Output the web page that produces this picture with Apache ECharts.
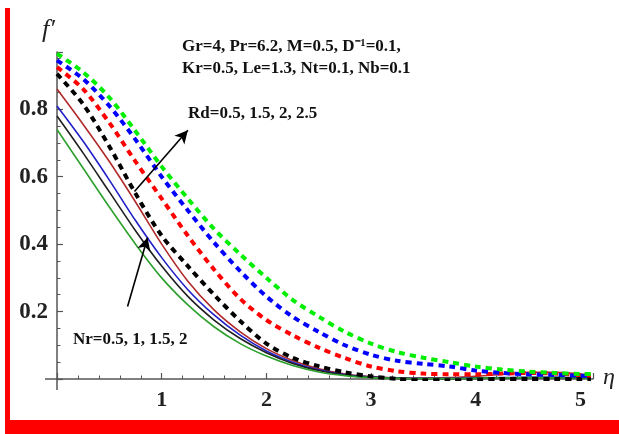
<!DOCTYPE html>
<html><head><meta charset="utf-8">
<script src="https://cdn.jsdelivr.net/npm/echarts@6/dist/echarts.min.js"></script>
<style>html,body{margin:0;padding:0;background:#fff}#c{width:619px;height:434px}</style>
</head><body><div id="c"></div>
<script>
// eta grid
const eta = [0,0.25,0.5,0.75,1,1.25,1.5,1.75,2,2.25,2.5,2.75,3,3.25,3.5,3.75,4,4.25,4.5,4.75,5,5.1];
// Solid curves: Nr = 0.5, 1, 1.5, 2
const nr05 = [0.86,0.755,0.645,0.525,0.40,0.29,0.205,0.14,0.09,0.055,0.03,0.015,0.007,0.003,0.003,0.004,0.008,0.014,0.02,0.02,0.015,0.012];
const nr1  = [0.81,0.705,0.59,0.47,0.36,0.265,0.19,0.13,0.083,0.05,0.027,0.013,0.006,0.003,0.002,0.002,0.003,0.004,0.005,0.005,0.004,0.004];
const nr15 = [0.78,0.67,0.555,0.44,0.335,0.245,0.175,0.12,0.078,0.046,0.025,0.012,0.005,0.002,0.001,0.001,0.002,0.003,0.004,0.004,0.003,0.003];
const nr2  = [0.74,0.625,0.51,0.40,0.30,0.22,0.155,0.105,0.068,0.04,0.021,0.01,0.004,0.002,0.001,0.001,0.002,0.003,0.004,0.004,0.003,0.003];
// Dashed curves: Rd = 0.5, 1.5, 2, 2.5
const rd05 = [0.905,0.815,0.69,0.55,0.425,0.335,0.25,0.172,0.105,0.063,0.038,0.02,0.008,0.0,-0.004,-0.004,-0.002,0,0,0,0,0];
const rd15 = [0.925,0.86,0.76,0.645,0.535,0.425,0.325,0.238,0.175,0.13,0.093,0.062,0.037,0.023,0.016,0.014,0.014,0.016,0.018,0.016,0.012,0.01];
const rd2  = [0.945,0.89,0.81,0.71,0.60,0.50,0.405,0.32,0.245,0.185,0.14,0.10,0.072,0.054,0.045,0.037,0.025,0.018,0.014,0.012,0.01,0.01];
const rd25 = [0.965,0.91,0.835,0.735,0.63,0.535,0.445,0.37,0.30,0.235,0.185,0.14,0.105,0.08,0.063,0.05,0.037,0.028,0.022,0.018,0.015,0.015];

const xTicks = [1,2,3,4,5];
const yTicks = [0.2,0.4,0.6,0.8];

const pair = a => eta.map((x,i)=>[x,a[i]]);
const solid = (name, arr, color) => ({
  name, type:'line', data: pair(arr), smooth:0.3, symbol:'none', z:3,
  lineStyle:{color, width:1.6, type:'solid'}
});
const dashed = (name, arr, color) => ({
  name, type:'line', data: pair(arr), smooth:0.3, symbol:'none', z:4,
  lineStyle:{color, width:4, type:[6,5], cap:'butt'}
});

const chart = echarts.init(document.getElementById('c'), null, {renderer:'canvas'});
const font = 'Liberation Serif, Times New Roman, serif';
const axisColor = '#555';

chart.setOption({
  animation:false,
  backgroundColor:'#fff',
  grid:{left:57, right:26, top:52, bottom:55, containLabel:false},
  xAxis:{
    type:'value', min:0, max:5.12, interval:1,
    axisLine:{show:true, onZero:false, lineStyle:{color:axisColor, width:1.5}},
    axisTick:{show:true, inside:true, length:6, lineStyle:{color:axisColor, width:1.2}},
    minorTick:{show:true, splitNumber:5, length:3.5, lineStyle:{color:axisColor, width:1}},
    splitLine:{show:false},
    axisLabel:{show:true, margin:10, showMinLabel:false, showMaxLabel:false,
      fontFamily:font, fontWeight:'bold', fontSize:22, color:'#222',
      formatter: v => xTicks.includes(Math.round(v*100)/100) ? String(v) : ''}
  },
  yAxis:{
    type:'value', min:0, max:0.97, interval:0.2,
    axisLine:{show:true, onZero:false, lineStyle:{color:axisColor, width:1.5}},
    axisTick:{show:true, inside:true, length:6, lineStyle:{color:axisColor, width:1.2}},
    minorTick:{show:true, splitNumber:4, length:3.5, lineStyle:{color:axisColor, width:1}},
    splitLine:{show:false},
    axisLabel:{show:true, margin:9, showMinLabel:false, showMaxLabel:false,
      fontFamily:font, fontWeight:'bold', fontSize:23, color:'#222',
      formatter: v => yTicks.includes(Math.round(v*100)/100) ? v.toFixed(1) : ''}
  },
  series:[
    solid('Nr=0.5', nr05, '#b02a2a'),
    solid('Nr=1', nr1, '#2020c8'),
    solid('Nr=1.5', nr15, '#202020'),
    solid('Nr=2', nr2, '#2ca02c'),
    dashed('Rd=0.5', rd05, '#000000'),
    dashed('Rd=1.5', rd15, '#ff0000'),
    dashed('Rd=2', rd2, '#0000ff'),
    dashed('Rd=2.5', rd25, '#00ee00'),
    {
      name:'arrows', type:'line', data:[], symbol:'none',
      markLine:{
        silent:true, symbol:['none','arrow'], symbolSize:[10,13], animation:false,
        label:{show:false},
        lineStyle:{color:'#000', width:1.6, type:'solid'},
        data:[
          [{coord:[0.74,0.556]},{coord:[1.25,0.738]}],
          [{coord:[0.674,0.215]},{coord:[0.865,0.42]}]
        ]
      }
    }
  ]
});

const o = chart.convertToPixel({gridIndex:0},[0,0]);
const tb = {fontFamily:font, fontWeight:'bold', fontSize:17, fill:'#111'};
chart.setOption({
  graphic:[
    {type:'rect', shape:{x:5, y:8, width:5, height:426}, style:{fill:'#ff0000'}, silent:true},
    {type:'rect', shape:{x:5, y:420, width:614, height:14}, style:{fill:'#ff0000'}, silent:true},
    {type:'line', shape:{x1:o[0]-12, y1:o[1], x2:o[0], y2:o[1]}, style:{stroke:axisColor, lineWidth:1.5}},
    {type:'line', shape:{x1:o[0], y1:o[1], x2:o[0], y2:o[1]+11}, style:{stroke:axisColor, lineWidth:1.5}},
    {type:'text', x:42, y:17, style:{text:'f′', font:'italic 26px '+font, fill:'#222'}},
    {type:'text', x:603, y:366, style:{text:'η', font:'italic 24px '+font, fill:'#222'}},
    {type:'text', x:182, y:38, style:Object.assign({text:'Gr=4, Pr=6.2, M=0.5, D⁻¹=0.1,'}, tb)},
    {type:'text', x:182, y:60, style:Object.assign({text:'Kr=0.5, Le=1.3, Nt=0.1, Nb=0.1'}, tb)},
    {type:'text', x:188, y:105, style:Object.assign({text:'Rd=0.5, 1.5, 2, 2.5'}, tb)},
    {type:'text', x:73, y:331, style:Object.assign({text:'Nr=0.5, 1, 1.5, 2'}, tb)}
  ]
});
</script>
</body></html>
